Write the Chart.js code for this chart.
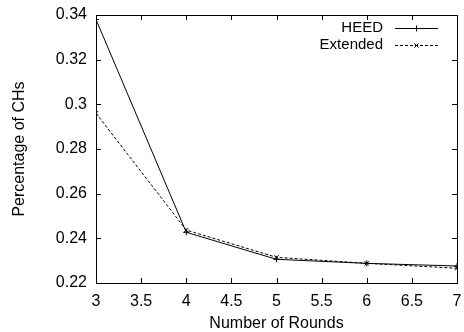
<!DOCTYPE html>
<html>
<head>
<meta charset="utf-8">
<script src="https://cdn.jsdelivr.net/npm/chart.js@4"></script>
<style>
  html, body { margin: 0; padding: 0; background: #fff; overflow: hidden; }
  canvas { display: block; }
</style>
</head>
<body>
<canvas id="chart" width="464" height="332"></canvas>
<script>
// data
const rounds = [3, 4, 5, 6, 7];
const heedValues = [0.338, 0.2427, 0.2306, 0.2288, 0.2276];
const extendedValues = [0.296, 0.2437, 0.2315, 0.2288, 0.2266];
const xTicks = [3, 3.5, 4, 4.5, 5, 5.5, 6, 6.5, 7];
const yTicks = [0.22, 0.24, 0.26, 0.28, 0.3, 0.32, 0.34];

Chart.defaults.font.family = "'Liberation Sans', Arial, sans-serif";
Chart.defaults.font.size = 16;
Chart.defaults.color = '#000';

// gnuplot-like frame with inward ticks on all four sides
const framePlugin = {
  id: 'frame',
  afterDraw(chart) {
    const ctx = chart.ctx;
    const a = chart.chartArea;
    const xs = chart.scales.x, ys = chart.scales.y;
    const len = 5;
    ctx.save();
    ctx.strokeStyle = '#000';
    ctx.lineWidth = 1;
    ctx.strokeRect(Math.round(a.left) + 0.5, Math.round(a.top) + 0.5,
      Math.round(a.right - a.left), Math.round(a.bottom - a.top));
    ctx.beginPath();
    xTicks.forEach(v => {
      const px = Math.round(xs.getPixelForValue(v)) + 0.5;
      ctx.moveTo(px, a.bottom); ctx.lineTo(px, a.bottom - len);
      ctx.moveTo(px, a.top); ctx.lineTo(px, a.top + len);
    });
    yTicks.forEach(v => {
      const py = Math.round(ys.getPixelForValue(v)) + 0.5;
      ctx.moveTo(a.left, py); ctx.lineTo(a.left + len, py);
      ctx.moveTo(a.right, py); ctx.lineTo(a.right - len, py);
    });
    ctx.stroke();
    ctx.restore();
  }
};

// legend in the top-right corner: text, then line sample
const legendPlugin = {
  id: 'keyBox',
  afterDraw(chart) {
    const ctx = chart.ctx;
    const a = chart.chartArea;
    const textRight = a.right - 74;
    const lineL = a.right - 62, lineR = a.right - 19;
    ctx.save();
    ctx.font = "15px 'Liberation Sans', Arial, sans-serif";
    ctx.textAlign = 'right';
    ctx.textBaseline = 'middle';
    chart.data.datasets.forEach((ds, i) => {
      const y = a.top + 13 + i * 17;
      ctx.fillStyle = '#000';
      ctx.fillText(ds.label, textRight, y);
      ctx.strokeStyle = ds.borderColor;
      ctx.lineWidth = 1;
      ctx.setLineDash(ds.borderDash || []);
      ctx.beginPath();
      ctx.moveTo(lineL, Math.round(y) + 0.5);
      ctx.lineTo(lineR, Math.round(y) + 0.5);
      ctx.stroke();
      ctx.setLineDash([]);
      Chart.helpers.drawPoint(ctx, {
        pointStyle: ds.pointStyle, radius: ds.pointRadius, borderWidth: 1
      }, (lineL + lineR) / 2, Math.round(y) + 0.5);
    });
    ctx.restore();
  }
};

new Chart(document.getElementById('chart'), {
  type: 'line',
  data: {
    datasets: [
      {
        label: 'HEED',
        data: rounds.map((r, i) => ({ x: r, y: heedValues[i] })),
        borderColor: '#000',
        backgroundColor: '#000',
        borderWidth: 1,
        pointStyle: 'cross',
        pointRadius: 3,
        pointBorderWidth: 1,
        tension: 0
      },
      {
        label: 'Extended',
        data: rounds.map((r, i) => ({ x: r, y: extendedValues[i] })),
        borderColor: '#000',
        backgroundColor: '#000',
        borderWidth: 1,
        borderDash: [3, 2],
        pointStyle: 'crossRot',
        pointRadius: 3,
        pointBorderWidth: 1,
        tension: 0
      }
    ]
  },
  options: {
    responsive: false,
    animation: false,
    layout: { padding: { top: 15, right: 7, left: 0, bottom: 0 } },
    plugins: { legend: { display: false }, tooltip: { enabled: false } },
    scales: {
      x: {
        type: 'linear',
        min: 3,
        max: 7,
        afterBuildTicks: s => { s.ticks = xTicks.map(v => ({ value: v })); },
        afterFit: s => { s.height = 49; s.paddingLeft = 0; s.paddingRight = 0; },
        grid: { display: false, drawTicks: false },
        border: { display: false },
        ticks: { padding: 9, maxRotation: 0, autoSkip: false, callback: v => String(v) },
        title: { display: true, text: 'Number of Rounds', font: { lineHeight: 1 }, padding: { top: 0, bottom: 0 } }
      },
      y: {
        min: 0.22,
        max: 0.34,
        afterBuildTicks: s => { s.ticks = yTicks.map(v => ({ value: v })); },
        afterFit: s => { s.width = 96; s.paddingTop = 0; s.paddingBottom = 0; },
        grid: { display: false, drawTicks: false },
        border: { display: false },
        ticks: { padding: 9, autoSkip: false, callback: v => String(+v.toFixed(2)) },
        title: { display: true, text: 'Percentage of CHs', font: { size: 16, lineHeight: 1 }, padding: { top: 12, bottom: 0 } }
      }
    }
  },
  plugins: [framePlugin, legendPlugin]
});
</script>
</body>
</html>
